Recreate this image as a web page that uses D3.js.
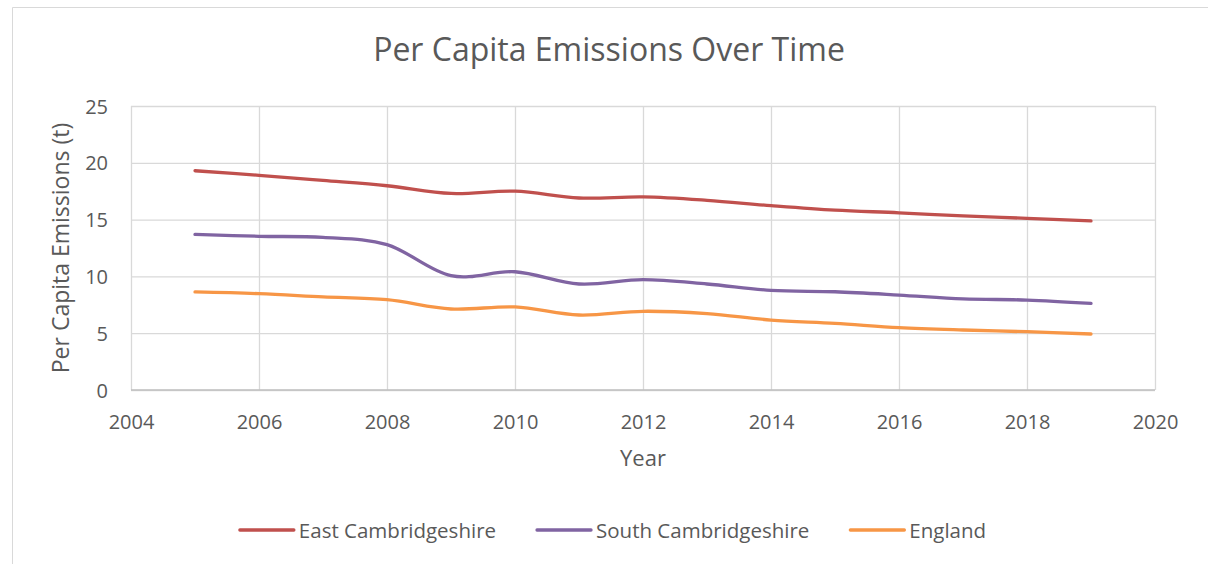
<!DOCTYPE html>
<html>
<head>
<meta charset="utf-8">
<script src="https://cdn.jsdelivr.net/npm/d3@7"></script>
<style>
  html, body { margin: 0; padding: 0; background: #fff; }
  svg { display: block; font-family: "Open Sans", sans-serif; }
  svg text { font-family: "Open Sans", sans-serif; }
</style>
</head>
<body>
<svg id="chart" width="1208" height="564"></svg>
<script>
const years = [2005, 2006, 2007, 2008, 2009, 2010, 2011, 2012, 2013, 2014, 2015, 2016, 2017, 2018, 2019];
const eastCambs = [19.3, 18.9, 18.45, 17.98, 17.3, 17.5, 16.9, 17.0, 16.7, 16.23, 15.83, 15.6, 15.32, 15.11, 14.88];
const southCambs = [13.7, 13.53, 13.43, 12.8, 10.06, 10.41, 9.33, 9.71, 9.33, 8.77, 8.65, 8.36, 8.02, 7.92, 7.63];
const england = [8.63, 8.48, 8.2, 7.95, 7.13, 7.31, 6.6, 6.93, 6.72, 6.16, 5.87, 5.49, 5.28, 5.13, 4.93];
const seriesNames = ["East Cambridgeshire", "South Cambridgeshire", "England"];
const seriesColors = ["#C0504D", "#8064A2", "#F79646"];
const xTicks = [2004, 2006, 2008, 2010, 2012, 2014, 2016, 2018, 2020];
const yTicks = [0, 5, 10, 15, 20, 25];
const title = "Per Capita Emissions Over Time";
const xTitle = "Year";
const yTitle = "Per Capita Emissions (t)";

const seriesValues = [eastCambs, southCambs, england];
const series = seriesNames.map((name, i) => ({
  name, color: seriesColors[i],
  values: years.map((y, j) => ({ year: y, value: seriesValues[i][j] }))
}));

const svg = d3.select("#chart");
const textColor = "#595959";
const gridColor = "#D9D9D9";
const fontFam = "'Open Sans', sans-serif";

const plot = { left: 131, right: 1155, top: 106, bottom: 390 };
const x = d3.scaleLinear().domain([2004, 2020]).range([plot.left, plot.right]);
const y = d3.scaleLinear().domain([0, 25]).range([plot.bottom, plot.top]);

// chart outer border
svg.append("rect").attr("x", 0).attr("y", 0).attr("width", 1208).attr("height", 564).attr("fill", "#fff");
svg.append("path")
  .attr("d", "M12.5,564 L12.5,7.5 L1208,7.5")
  .attr("fill", "none").attr("stroke", gridColor).attr("stroke-width", 1);

// title
svg.append("text")
  .attr("x", 609).attr("y", 61)
  .attr("text-anchor", "middle")
  .attr("fill", textColor)
  .style("font-size", "32px")
  .text(title);

// vertical gridlines + x tick labels via axis
const xAxis = d3.axisBottom(x).tickValues(xTicks).tickFormat(d3.format("d"))
  .tickSizeInner(-(plot.bottom - plot.top)).tickSizeOuter(0).tickPadding(24);
const gx = svg.append("g").attr("transform", `translate(0,${plot.bottom})`).call(xAxis)
  .attr("font-family", fontFam);
gx.select(".domain").remove();
gx.selectAll(".tick line").attr("stroke", gridColor).attr("stroke-width", 1.3);
gx.selectAll(".tick text").attr("fill", textColor).style("font-size", "20px")
  .style("font-family", fontFam)
  .attr("y", 39).attr("dy", 0);

// horizontal gridlines + y tick labels
const yAxis = d3.axisLeft(y).tickValues(yTicks)
  .tickSizeInner(-(plot.right - plot.left)).tickSizeOuter(0).tickPadding(24);
const gy = svg.append("g").attr("transform", `translate(${plot.left},0)`).call(yAxis)
  .attr("font-family", fontFam);
gy.select(".domain").remove();
gy.selectAll(".tick line").attr("stroke", gridColor).attr("stroke-width", 1.3);
gy.selectAll(".tick text").attr("fill", textColor).style("font-size", "20px")
  .style("font-family", fontFam)
  .attr("x", -23).attr("dy", "0.35em");

// bottom axis line
svg.append("line")
  .attr("x1", plot.left).attr("x2", plot.right)
  .attr("y1", plot.bottom).attr("y2", plot.bottom)
  .attr("stroke", "#BFBFBF").attr("stroke-width", 1.5);

// axis titles
svg.append("text")
  .attr("x", (plot.left + plot.right) / 2).attr("y", 466)
  .attr("text-anchor", "middle").attr("fill", textColor)
  .style("font-size", "22px").text(xTitle);
svg.append("text")
  .attr("transform", `translate(69,${(plot.top + plot.bottom) / 2}) rotate(-90)`)
  .attr("text-anchor", "middle").attr("fill", textColor)
  .style("font-size", "23px").text(yTitle);

// lines
const line = d3.line()
  .x(d => x(d.year)).y(d => y(d.value))
  .curve(d3.curveCatmullRom.alpha(0));
svg.append("g").selectAll("path").data(series).join("path")
  .attr("d", d => line(d.values))
  .attr("fill", "none")
  .attr("stroke", d => d.color)
  .attr("stroke-width", 3.3)
  .attr("stroke-linecap", "round")
  .attr("stroke-linejoin", "round");

// legend
const legend = svg.append("g");
const lineLen = 54, gapLT = 5, gapItems = 41, legendY = 530;
const items = legend.selectAll("g").data(series).join("g");
items.append("line")
  .attr("x1", 0).attr("x2", lineLen).attr("y1", 0).attr("y2", 0)
  .attr("stroke", d => d.color).attr("stroke-width", 3.3).attr("stroke-linecap", "round");
items.append("text")
  .attr("x", lineLen + gapLT).attr("y", 8)
  .attr("fill", textColor).style("font-size", "20.5px")
  .text(d => d.name);
let offs = [], cur = 0;
items.each(function () {
  const w = d3.select(this).select("text").node().getComputedTextLength();
  offs.push(cur);
  cur += lineLen + gapLT + w + gapItems;
});
const total = cur - gapItems;
const startX = 613 - total / 2;
items.attr("transform", (d, i) => `translate(${startX + offs[i]},${legendY})`);
</script>
</body>
</html>
